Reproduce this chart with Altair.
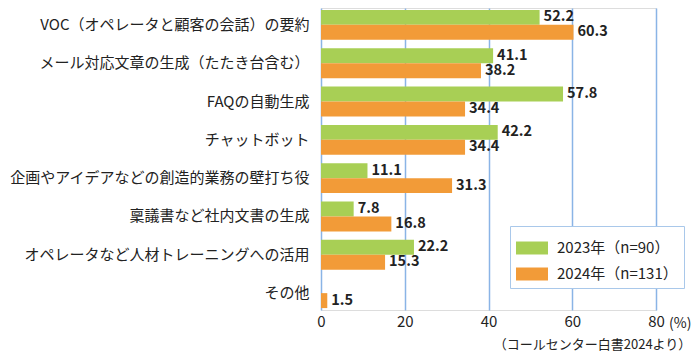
import altair as alt
import pandas as pd

categories = [
    "VOC（オペレータと顧客の会話）の要約",
    "メール対応文章の生成（たたき台含む）",
    "FAQの自動生成",
    "チャットボット",
    "企画やアイデアなどの創造的業務の壁打ち役",
    "稟議書など社内文書の生成",
    "オペレータなど人材トレーニングへの活用",
    "その他",
]
series = ["2023年（n=90）", "2024年（n=131）"]
values_2023 = [52.2, 41.1, 57.8, 42.2, 11.1, 7.8, 22.2, None]
values_2024 = [60.3, 38.2, 34.4, 34.4, 31.3, 16.8, 15.3, 1.5]
colors = ["#a8cf55", "#f29b38"]
x_ticks = [0, 20, 40, 60, 80]
unit_label = "(%)"
source_note = "（コールセンター白書2024より）"

rows = []
for c, a, b in zip(categories, values_2023, values_2024):
    if a is not None:
        rows.append({"cat": c, "series": series[0], "value": a})
    if b is not None:
        rows.append({"cat": c, "series": series[1], "value": b})
df = pd.DataFrame(rows)

FONT = "Noto Sans CJK JP"
GRID = "#8ab4e6"
W, H = 335, 302

x_enc = alt.X(
    "value:Q",
    scale=alt.Scale(domain=[0, 80], nice=False),
    axis=alt.Axis(
        values=x_ticks, grid=True, gridColor=GRID, gridWidth=1.5,
        domain=False, ticks=False, labelFont=FONT, labelFontSize=15,
        labelColor="#222", labelPadding=4, title=None, labelFlush=False,
    ),
)
y_enc = alt.Y(
    "cat:N", sort=categories,
    scale=alt.Scale(paddingInner=0.22, paddingOuter=0.05),
    axis=alt.Axis(
        title=None, ticks=False, domain=False, labelFont=FONT,
        labelFontSize=15, labelColor="#222", labelPadding=12,
        labelLimit=400, minExtent=313, maxExtent=313,
    ),
)
yoff = alt.YOffset("series:N", sort=series,
                   scale=alt.Scale(paddingInner=0, paddingOuter=0))

base = alt.Chart(df)
bars = base.mark_bar().encode(
    x=x_enc, y=y_enc, yOffset=yoff,
    color=alt.Color(
        "series:N", sort=series,
        scale=alt.Scale(domain=series, range=colors),
        legend=alt.Legend(
            title=None, orient="none", legendX=189, legendY=218,
            fillColor="white", strokeColor="#a9c8ea", padding=6,
            symbolType="M-1,-0.406H1V0.406H-1Z", symbolSize=1024,
            symbolStrokeWidth=0, symbolOpacity=1,
            labelFont=FONT, labelFontSize=15, labelColor="#222",
            labelOffset=9, rowPadding=2,
        ),
    ),
)
labels = base.mark_text(
    align="left", baseline="middle", dx=4, font=FONT,
    fontWeight="bold", fontSize=14.5, color="#222",
).encode(
    x="value:Q", y=alt.Y("cat:N", sort=categories), yOffset=yoff,
    text=alt.Text("value:Q", format=".1f"),
)
unit = alt.Chart(pd.DataFrame({"x": [80], "t": [unit_label]})).mark_text(
    align="left", baseline="middle", dx=13, font=FONT, fontSize=14, color="#222",
).encode(x="x:Q", y=alt.value(H + 14), text="t:N")

chart = alt.layer(bars, labels, unit).properties(
    width=W, height=H,
    padding=0,
    title=alt.TitleParams(
        source_note, orient="bottom", anchor="end", font=FONT,
        fontSize=13, fontWeight="normal", color="#222", offset=8,
    ),
).configure_view(stroke=None).configure(background="white")

chart.save("out.html", embed_options={"renderer": "svg", "actions": False})
